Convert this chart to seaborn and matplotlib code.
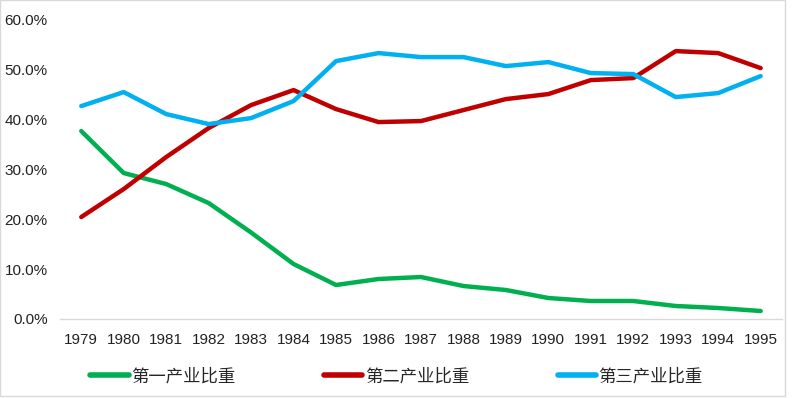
import matplotlib
matplotlib.use("Agg")
import matplotlib.pyplot as plt
import seaborn as sns
import pandas as pd
from matplotlib.ticker import FuncFormatter

years = list(range(1979, 1996))
primary = [37.6, 29.2, 27.0, 23.2, 17.3, 11.0, 6.8, 8.0, 8.4, 6.6, 5.8, 4.2, 3.6, 3.6, 2.6, 2.2, 1.6]
secondary = [20.4, 26.0, 32.4, 38.2, 42.8, 45.8, 42.0, 39.4, 39.6, 41.8, 44.0, 45.0, 47.8, 48.2, 53.6, 53.2, 50.2]
tertiary = [42.6, 45.4, 41.0, 39.0, 40.2, 43.6, 51.6, 53.2, 52.4, 52.4, 50.6, 51.4, 49.2, 49.0, 44.4, 45.2, 48.6]
series_names = ["第一产业比重", "第二产业比重", "第三产业比重"]
colors = ["#00B050", "#C00000", "#00B0F0"]

df = pd.concat([
    pd.DataFrame({"year": years, "value": vals, "series": name})
    for name, vals in zip(series_names, [primary, secondary, tertiary])
])

sns.set_theme(style="white")
plt.rcParams['font.family'] = ['Noto Sans CJK SC', 'DejaVu Sans']

fig = plt.figure(figsize=(7.93, 3.98), dpi=100)
ax = fig.add_axes([0.0757, 0.1985, 0.9103, 0.7535])
sns.lineplot(data=df, x="year", y="value", hue="series", palette=colors,
             linewidth=3.2, ax=ax, legend=True)

ax.set_xlim(1978.5, 1995.5)
ax.set_ylim(0, 60)
ax.set_yticks(range(0, 61, 10))
ax.yaxis.set_major_formatter(FuncFormatter(lambda v, p: f"{v:.1f}%"))
ax.set_xticks(years)
ax.set_xticklabels([str(y) for y in years], family=['Liberation Sans', 'DejaVu Sans'],
                   fontsize=11, color='#222222')
for t in ax.get_yticklabels():
    t.set_family(['Liberation Sans', 'DejaVu Sans'])
    t.set_fontsize(11)
    t.set_color('#222222')
ax.set_xlabel("")
ax.set_ylabel("")
for s in ["top", "right", "left"]:
    ax.spines[s].set_visible(False)
ax.spines["bottom"].set_color("#D9D9D9")
ax.spines["bottom"].set_linewidth(1)
ax.tick_params(axis="x", length=0, pad=10)
ax.tick_params(axis="y", length=0, pad=9)

handles, labels = ax.get_legend_handles_labels()
ax.get_legend().remove()
leg = fig.legend(handles, labels, loc="center", bbox_to_anchor=(0.5, 0.055), ncol=3,
                 frameon=False, fontsize=12.5, handlelength=2.2, handletextpad=0.15,
                 columnspacing=5.1)
for line in leg.get_lines():
    line.set_linewidth(4)

# light figure border
fig.patches.append(plt.Rectangle((0, 0.005), 0.99, 0.995, transform=fig.transFigure,
                                 fill=False, edgecolor="#D9D9D9", linewidth=1))

fig.savefig("out.png", dpi=100)
